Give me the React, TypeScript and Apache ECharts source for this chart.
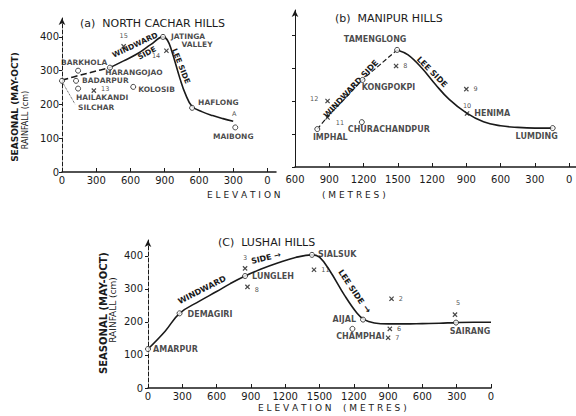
import React, { useEffect, useRef } from 'react';
import * as echarts from 'echarts';

// ---------- tick labels (elevation along each transect, metres) ----------
const aElevTicks = ['0', '300', '600', '900', '600', '300', '0'];
const bElevTicks = ['600', '900', '1200', '1500', '1200', '900', '600', '300', '0'];
const cElevTicks = ['0', '300', '600', '900', '1200', '1500', '1200', '900', '600', '300', '0'];
const rainTicks = [0, 100, 200, 300, 400];

// ---------- profiles: [position along transect (1 step = 300 m), rainfall cm] ----------
const aProfileDashed = [[0, 272], [0.5, 286], [1.0, 299], [1.4, 309]];
const aProfile = [[1.4, 309], [1.8, 329], [2.2, 350], [2.6, 378], [2.95, 400], [3.08, 390], [3.2, 360], [3.45, 275], [3.6, 232], [3.8, 194], [4.1, 178], [4.4, 167], [4.7, 158], [5.0, 150]];
const aSilcharLeader = [[0, 268], [0.38, 201]];
const bProfileWindward = [[0.65, 115], [1.0, 158], [1.5, 212], [1.97, 264], [2.5, 312], [2.98, 355]];
const bProfileLee = [[2.98, 355], [3.3, 340], [3.7, 300], [4.1, 250], [4.5, 205], [5.0, 164], [5.5, 137], [6.0, 125], [6.5, 120], [7.0, 118], [7.52, 118]];
const cProfile = [[0, 118], [0.5, 172], [0.92, 226], [1.5, 263], [2.0, 292], [2.4, 316], [2.83, 339], [3.3, 360], [3.8, 379], [4.3, 395], [4.78, 403], [5.0, 396], [5.3, 355], [5.74, 279], [6.09, 227], [6.3, 207], [6.6, 197], [7.0, 194], [7.5, 194], [8.0, 195], [8.5, 196], [8.98, 198], [9.5, 199], [10, 199]];

// ---------- stations: [label, position, rainfall cm, marker] (o = station, x = numbered point) ----------
const aStations = [
  ['SILCHAR', 0, 270, 'o'],
  ['BARKHOLA', 0.47, 300, 'o'],
  ['BADARPUR', 0.41, 270, 'o'],
  ['HAILAKANDI', 0.47, 247, 'o'],
  ['13', 0.93, 241, 'x'],
  ['HARANGOJAO', 1.4, 309, 'o'],
  ['KOLOSIB', 2.08, 252, 'o'],
  ['15', 1.8, 372, 'x'],
  ['JATINGA VALLEY', 2.95, 400, 'o'],
  ['14', 3.05, 359, 'x'],
  ['HAFLONG', 3.8, 190, 'o'],
  ['A', 5.03, 172, ''],
  ['MAIBONG', 5.06, 132, 'o'],
];
const bStations = [
  ['IMPHAL', 0.65, 115, 'o'],
  ['12', 0.95, 200, 'x'],
  ['11', 0.95, 150, 'x'],
  ['KONGPOKPI', 1.97, 264, 'o'],
  ['CHURACHANDPUR', 1.95, 136, 'o'],
  ['TAMENGLONG', 2.98, 355, 'o'],
  ['8', 2.95, 306, 'x'],
  ['9', 5.0, 236, 'x'],
  ['HENIMA', 5.02, 162, 'x'],
  ['10', 5.02, 162, ''],
  ['LUMDING', 7.52, 118, 'o'],
];
const cStations = [
  ['AMARPUR', 0, 118, 'o'],
  ['DEMAGIRI', 0.92, 226, 'o'],
  ['LUNGLEH', 2.83, 339, 'o'],
  ['3', 2.83, 362, 'x'],
  ['8', 2.9, 306, 'x'],
  ['SIALSUK', 4.78, 403, 'o'],
  ['11', 4.84, 358, 'x'],
  ['AIJAL', 6.27, 207, 'o'],
  ['CHAMPHAI', 5.96, 179, 'o'],
  ['7', 7.0, 152, 'x'],
  ['6', 7.05, 179, 'x'],
  ['2', 7.1, 270, 'x'],
  ['SAIRANG', 8.98, 198, 'o'],
  ['5', 8.95, 222, 'x'],
];

// ---------- label placement (style only) ----------
const placement: Record<string, [string, number, number, string?]> = {
  'a:SILCHAR': ['right', 8, 27],
  'a:BARKHOLA': ['top', 6, 4],
  'a:BADARPUR': ['right', -2, 0],
  'a:HAILAKANDI': ['bottom', 24, -3],
  'a:13': ['right', -2, -2],
  'a:HARANGOJAO': ['bottom', 24, -7],
  'a:KOLOSIB': ['right', -3, 3],
  'a:15': ['top', 0, 2],
  'a:JATINGA VALLEY': ['right', 0, 4, 'JATINGA\n    VALLEY'],
  'a:14': ['left', 3, 5],
  'a:HAFLONG': ['right', -2, -5],
  'a:A': ['inside', 0, 0],
  'a:MAIBONG': ['bottom', -2, -3],
  'b:IMPHAL': ['bottom', 13, -4],
  'b:12': ['left', 0, -2],
  'b:11': ['right', -1, 5],
  'b:KONGPOKPI': ['bottom', 26, -4],
  'b:CHURACHANDPUR': ['bottom', 27, -5],
  'b:TAMENGLONG': ['top', -22, 2],
  'b:8': ['right', -2, 0],
  'b:9': ['right', -2, 0],
  'b:HENIMA': ['right', -2, 0],
  'b:10': ['top', 0, 1],
  'b:LUMDING': ['bottom', -16, -4],
  'c:AMARPUR': ['right', -3, 0],
  'c:DEMAGIRI': ['right', 0, 1],
  'c:LUNGLEH': ['right', -1, 0],
  'c:3': ['top', 0, 2],
  'c:8': ['right', -2, 3],
  'c:SIALSUK': ['right', -2, 0],
  'c:11': ['right', -2, 0],
  'c:AIJAL': ['left', 1, 0],
  'c:CHAMPHAI': ['bottom', 8, -4],
  'c:7': ['right', -2, 0],
  'c:6': ['right', -2, 0],
  'c:2': ['right', -2, 0],
  'c:SAIRANG': ['bottom', 14, -3],
  'c:5': ['top', 3, 1],
};

const INK = '#1a1a1a';
const FONT = 'DejaVu Sans';
const PLUS = 'path://M4,0h2v4h4v2h-4v4h-2v-4h-4v-2h4z';

function stationItems(list: any[], panel: string) {
  return list.map(([name, x, y, kind]) => {
    const p = placement[panel + ':' + name] || ['right', 0, 0];
    const small = /^\d+$/.test(name) || name === 'A';
    return {
      value: [x, y],
      symbol: kind === 'o' ? 'circle' : kind === 'x' ? PLUS : 'circle',
      symbolSize: kind === 'o' ? 5 : kind === 'x' ? 6 : 1,
      symbolRotate: kind === 'x' ? 45 : 0,
      itemStyle:
        kind === 'o'
          ? { color: '#fff', borderColor: INK, borderWidth: 1 }
          : kind === 'x'
          ? { color: INK, borderWidth: 0 }
          : { color: 'rgba(0,0,0,0)', borderWidth: 0 },
      label: {
        show: true,
        formatter: p[3] || name,
        position: p[0],
        offset: [p[1], p[2]],
        fontSize: small ? 6.5 : panel === 'a' ? 7.5 : 8,
        fontWeight: small ? 'normal' : 'bold',
        color: INK,
        fontFamily: FONT,
        lineHeight: small ? 7 : 8,
      },
    };
  });
}

function lineSeries(data: number[][], idx: number, type: string, width = 1.6) {
  return {
    type: 'line',
    xAxisIndex: idx,
    yAxisIndex: idx,
    data,
    smooth: 0.4,
    symbol: 'none',
    silent: true,
    lineStyle: { color: INK, width, type },
    z: 2,
  };
}

function xAxis(idx: number, max: number, ticks: string[], margin: number) {
  const vals = ticks.map((_, i) => i);
  return {
    gridIndex: idx,
    type: 'value',
    min: 0,
    max,
    axisLine: { show: true, onZero: false, lineStyle: { color: INK, width: 1.5 } },
    axisTick: { show: true, inside: true, length: 4, customValues: vals, lineStyle: { color: INK, width: 1 } },
    axisLabel: {
      show: true,
      customValues: vals,
      formatter: (v: number) => ticks[Math.round(v)] ?? '',
      fontSize: 10,
      color: INK,
      fontFamily: FONT,
      margin,
    },
    splitLine: { show: false },
  };
}

function yAxis(idx: number, max: number, showLabels: boolean, dashed: boolean, margin: number) {
  return {
    gridIndex: idx,
    type: 'value',
    min: 0,
    max,
    axisLine: {
      show: true,
      onZero: false,
      symbol: ['none', 'arrow'],
      symbolSize: [5, 7],
      lineStyle: { color: INK, width: 1, type: dashed ? 'dashed' : 'solid' },
    },
    axisTick: { show: true, length: 3, customValues: rainTicks, lineStyle: { color: INK } },
    axisLabel: {
      show: showLabels,
      customValues: rainTicks,
      fontSize: 10,
      color: INK,
      fontFamily: FONT,
      margin,
    },
    splitLine: { show: false },
  };
}

function txt(x: number, y: number, text: string, size: number, opts: any = {}) {
  return {
    type: 'text',
    x,
    y,
    rotation: opts.rot || 0,
    silent: true,
    style: {
      text,
      fontSize: size,
      fontFamily: FONT,
      fontWeight: opts.bold ? 'bold' : 'normal',
      fill: INK,
      align: opts.align || 'center',
      textAlign: opts.align || 'center',
      verticalAlign: 'middle',
      textVerticalAlign: 'middle',
    },
  };
}

export default function App() {
  const ref = useRef<HTMLDivElement>(null);
  useEffect(() => {
    document.body.style.margin = '0';
    const chart = echarts.init(ref.current!, undefined, { renderer: 'svg' });
    const R = Math.PI / 2;
    chart.setOption({
      animation: false,
      backgroundColor: '#fff',
      grid: [
        { left: 62, top: 18, width: 214, height: 154 },
        { left: 295, top: 10, width: 282, height: 157 },
        { left: 148, top: 240, width: 343, height: 148 },
      ],
      xAxis: [xAxis(0, 6.25, aElevTicks, 3), xAxis(1, 8.2, bElevTicks, 7), xAxis(2, 10, cElevTicks, 3)],
      yAxis: [yAxis(0, 456, true, true, 3), yAxis(1, 476, false, false, 3), yAxis(2, 448, true, true, 5)],
      series: [
        lineSeries(aProfileDashed, 0, 'dashed'),
        lineSeries(aProfile, 0, 'solid'),
        lineSeries(aSilcharLeader, 0, 'dotted', 0.8),
        lineSeries(bProfileWindward, 1, 'dashed', 1.2),
        lineSeries(bProfileLee, 1, 'solid'),
        lineSeries(cProfile, 2, 'solid'),
        { type: 'scatter', xAxisIndex: 0, yAxisIndex: 0, data: stationItems(aStations, 'a'), z: 3 },
        { type: 'scatter', xAxisIndex: 1, yAxisIndex: 1, data: stationItems(bStations, 'b'), z: 3 },
        { type: 'scatter', xAxisIndex: 2, yAxisIndex: 2, data: stationItems(cStations, 'c'), z: 3 },
      ],
      graphic: [
        txt(80, 23, '(a)  NORTH CACHAR HILLS', 11, { align: 'left' }),
        txt(335, 18, '(b)  MANIPUR HILLS', 11, { align: 'left' }),
        txt(218, 242, '(C)  LUSHAI HILLS', 11, { align: 'left' }),
        txt(207, 195, 'E L E V A T I O N', 9, { align: 'left' }),
        txt(322, 195, '( M E T R E S )', 9, { align: 'left' }),
        txt(258, 408, 'E L E V A T I O N', 9, { align: 'left' }),
        txt(343, 408, '( M E T R E S )', 9, { align: 'left' }),
        txt(15, 107, 'SEASONAL (MAY-OCT)', 9, { rot: R, bold: true }),
        txt(25, 120, 'RAINFALL (cm)', 8, { rot: R }),
        txt(103, 313, 'SEASONAL (MAY-OCT)', 10, { rot: R, bold: true }),
        txt(113, 310, 'RAINFALL (cm)', 9, { rot: R }),
        txt(135, 45, 'WINDWARD', 7.5, { rot: 0.44, bold: true }),
        txt(147, 53, 'SIDE', 7.5, { rot: 0.5, bold: true }),
        txt(181, 66, 'LEE SIDE', 7.5, { rot: -1.19, bold: true }),
        txt(351, 89, 'WINDWARD SIDE', 8, { rot: 0.82, bold: true }),
        txt(432, 72, 'LEE SIDE', 8, { rot: -0.79, bold: true }),
        txt(202, 290, 'WINDWARD', 8, { rot: 0.47, bold: true }),
        txt(266, 258, 'SIDE →', 8, { rot: 0.24, bold: true }),
        txt(351, 287, 'LEE SIDE', 8, { rot: -0.98, bold: true }),
        txt(367, 309, '→', 9, { rot: -0.98, bold: true }),
      ],
    });
    return () => chart.dispose();
  }, []);
  return <div ref={ref} style={{ width: 576, height: 416 }} />;
}
